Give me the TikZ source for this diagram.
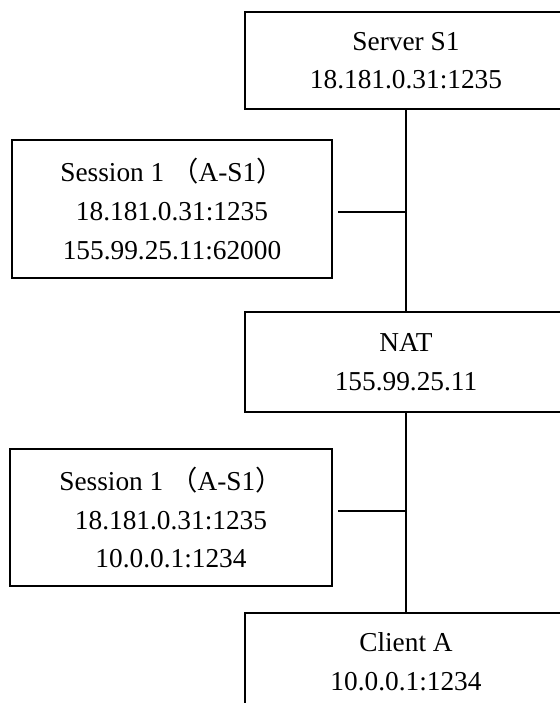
\documentclass[tikz,border=0pt]{standalone}
\usepackage{fontspec}
\setmainfont{Liberation Serif}
\newfontfamily\cjkfont{Noto Sans CJK SC}
\newcommand\flp{{\cjkfont （}}
\newcommand\frp{{\cjkfont ）}}
\begin{document}
\begin{tikzpicture}[x=0.75pt,y=-0.75pt,
  box/.style={draw=black,line width=1.1pt,rectangle,inner sep=0pt,align=center,
    font=\fontsize{20.5}{29}\selectfont},
  wire/.style={draw=black,line width=1.1pt}]
\useasboundingbox (0,0) rectangle (560,703);
\fill[white] (0,0) rectangle (560,703);
\clip (0,0) rectangle (560,703);
\node[box,minimum width=241.5pt,minimum height=72.75pt] (srv) at (406,60.5) {Server S1\\18.181.0.31:1235};
\node[box,minimum width=240pt,minimum height=103.5pt] (s1) at (172,209) {Session 1 \flp A-S1\frp\\18.181.0.31:1235\\155.99.25.11:62000};
\node[box,minimum width=241.5pt,minimum height=75pt] (nat) at (406,362) {NAT\\155.99.25.11};
\node[box,minimum width=241.5pt,minimum height=102.75pt] (s2) at (171,517.5) {Session 1 \flp A-S1\frp\\18.181.0.31:1235\\10.0.0.1:1234};
\node[box,minimum width=241.5pt,minimum height=72.75pt] (cli) at (406,661.5) {Client A\\10.0.0.1:1234};
\coordinate (c1) at (338,212);
\coordinate (c2) at (338,511);
\draw[wire] (srv.south) -- (nat.north);
\draw[wire] (nat.south) -- (cli.north);
\draw[wire] (c1) -- (c1 -| srv.south);
\draw[wire] (c2) -- (c2 -| nat.south);
\end{tikzpicture}
\end{document}
